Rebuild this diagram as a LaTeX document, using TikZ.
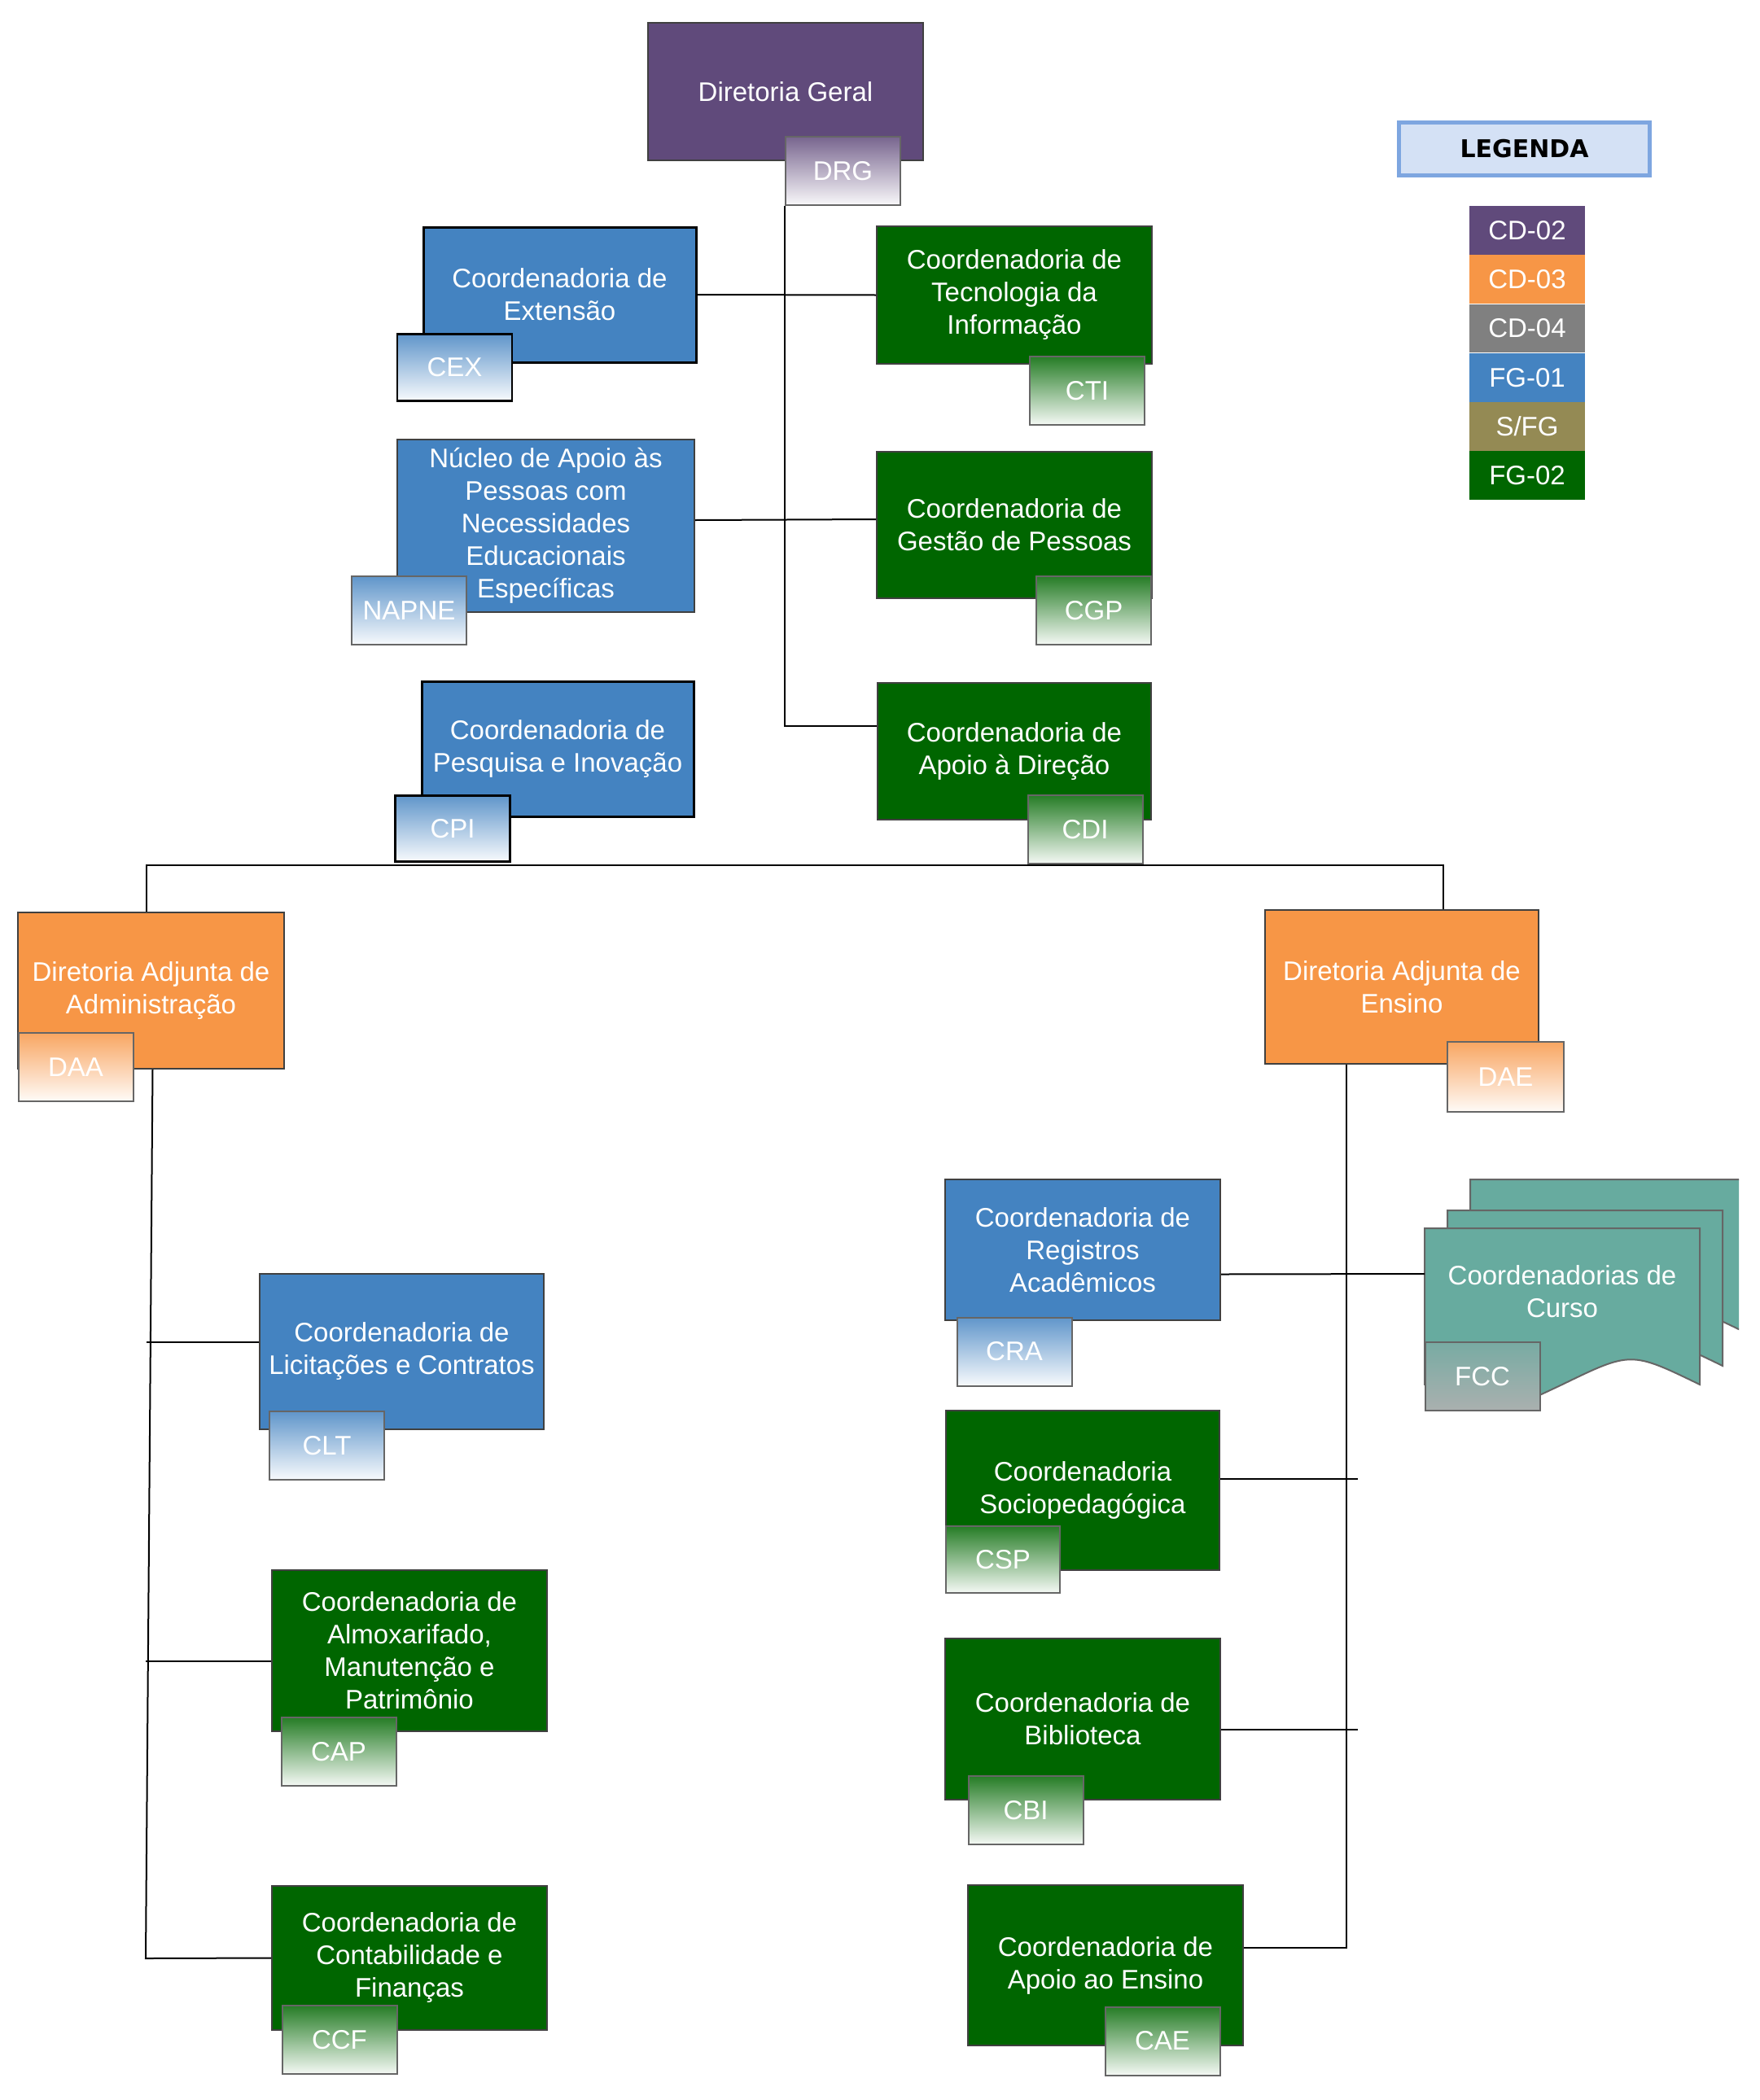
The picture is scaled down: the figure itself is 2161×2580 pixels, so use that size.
\documentclass[tikz,border=0pt]{standalone}
\usepackage{fontspec}
\setmainfont{Liberation Sans}
\newfontfamily\legfont{DejaVu Sans}
\definecolor{cdPurple}{HTML}{604A7B}
\definecolor{cdOrange}{HTML}{F79646}
\definecolor{cdGray}{HTML}{808080}
\definecolor{fgBlue}{HTML}{4483C1}
\definecolor{sfgOlive}{HTML}{948A54}
\definecolor{fgGreen}{HTML}{006600}
\definecolor{fccTeal}{HTML}{67AB9F}
\definecolor{fccTop}{HTML}{78ABA3}
\definecolor{fccBot}{HTML}{AAB0AF}
\definecolor{legFill}{HTML}{D4E1F5}
\definecolor{legLine}{HTML}{7EA6E0}

\begin{document}
\begin{tikzpicture}
  [x=1pt,y=-1pt,
  every node/.style={font=\fontsize{33}{40}\selectfont,text=white,inner sep=0pt},
  box/.style={draw=black!75,line width=2pt,fill=#1,align=center,minimum width=338pt},
  tag/.style={draw=black!60,line width=2pt,top color=#1!85!white,bottom color=#1!4!white,
    minimum width=141pt,minimum height=84pt},
  leg/.style={fill=#1,minimum width=142pt,minimum height=59.8pt,anchor=north},
  doc/.style={fill=fccTeal,draw=black!60,line width=2pt},
  wire/.style={draw,line width=2pt}]
  \fill[white] (0,0) rectangle (2161,2580);
  \useasboundingbox (0,0) rectangle (2161,2580);

  \node[box=cdPurple,minimum height=168pt] (DRG) at (965,112.5) {Diretoria Geral};
  \node[box=fgBlue,draw=black,line width=3pt,minimum width=335pt,minimum height=166pt] (CEX) at (687.5,362) {Coordenadoria de\\Extensão};
  \node[box=fgBlue,minimum width=365pt,minimum height=212pt] (NAPNE) at (670.5,646) {Núcleo de Apoio às\\Pessoas com\\Necessidades\\Educacionais\\Específicas};
  \node[box=fgBlue,draw=black,line width=3pt,minimum width=334pt,minimum height=166pt] (CPI) at (685,920) {Coordenadoria de\\Pesquisa e Inovação};
  \node[box=fgGreen,minimum height=169pt] (CTI) at (1246,362.5) {Coordenadoria de\\Tecnologia da\\Informação};
  \node[box=fgGreen,minimum height=180pt] (CGP) at (1246,645) {Coordenadoria de\\Gestão de Pessoas};
  \node[box=fgGreen,minimum width=336pt,minimum height=168pt] (CDI) at (1246,923) {Coordenadoria de\\Apoio à Direção};

  \node[box=cdOrange,minimum width=327pt,minimum height=192pt] (DAA) at (185.5,1217) {Diretoria Adjunta de\\Administração};
  \node[box=cdOrange,minimum width=336pt,minimum height=189pt] (DAE) at (1722,1212.5) {Diretoria Adjunta de\\Ensino};

  \node[box=fgBlue,minimum width=349pt,minimum height=191pt] (CLT) at (493.5,1660.5) {Coordenadoria de\\Licitações e Contratos};
  \node[box=fgGreen,minimum height=198pt] (CAP) at (503,2028) {Coordenadoria de\\Almoxarifado,\\Manutenção e\\Patrimônio};
  \node[box=fgGreen,minimum height=177pt] (CCF) at (503,2405.5) {Coordenadoria de\\Contabilidade e\\Finanças};

  \node[box=fgBlue,minimum height=173pt] (CRA) at (1330,1535.5) {Coordenadoria de\\Registros\\Acadêmicos};
  \node[box=fgGreen,minimum width=336pt,minimum height=196pt] (CSP) at (1330,1831) {Coordenadoria\\Sociopedagógica};
  \node[box=fgGreen,minimum height=198pt] (CBI) at (1330,2112) {Coordenadoria de\\Biblioteca};
  \node[box=fgGreen,minimum height=197pt] (CAE) at (1358,2414.5) {Coordenadoria de\\Apoio ao Ensino};

  \begin{scope}
    \clip (1700,1400) rectangle (2136,1800);
    \path[doc] (1806,1449) -- (2144,1449) -- (2144,1637) .. controls (2059.5,1596) .. (1975,1637)
      .. controls (1890.5,1677) .. (1806,1637) -- cycle;
  \end{scope}
  \path[doc] (1778,1487) -- (2116,1487) -- (2116,1678) .. controls (2031.5,1637) .. (1947,1678)
    .. controls (1862.5,1718) .. (1778,1678) -- cycle;
  \path[doc] (1750,1509) -- (2088,1509) -- (2088,1701) .. controls (2003.5,1660) .. (1919,1701)
    .. controls (1834.5,1741) .. (1750,1701) -- cycle;
  \node[align=center] (FCC) at (1919,1587) {Coordenadorias de\\Curso};
  \coordinate (fccIn) at (1750,1565);

  \node[tag=cdPurple] (DRGt) at (1035.5,210) {DRG};
  \node[tag=fgBlue,draw=black,line width=2.5pt,minimum height=82pt] (CEXt) at (558.5,451.5) {CEX};
  \node[tag=fgBlue] (NAPNEt) at (502.5,750) {NAPNE};
  \node[tag=fgBlue,draw=black,line width=2.5pt,minimum height=81pt] (CPIt) at (556,1018) {CPI};
  \node[tag=fgGreen] (CTIt) at (1335.5,480) {CTI};
  \node[tag=fgGreen] (CGPt) at (1343.5,750) {CGP};
  \node[tag=fgGreen] (CDIt) at (1333,1019) {CDI};
  \node[tag=cdOrange] (DAAt) at (93,1311) {DAA};
  \node[tag=cdOrange,minimum width=143pt,minimum height=86pt] (DAEt) at (1849.5,1323) {DAE};
  \node[tag=fgBlue] (CLTt) at (401.5,1776) {CLT};
  \node[tag=fgGreen] (CAPt) at (416,2152) {CAP};
  \node[tag=fgGreen] (CCFt) at (417,2506) {CCF};
  \node[tag=fgBlue] (CRAt) at (1246,1660.5) {CRA};
  \node[tag=fgGreen,minimum width=140pt,minimum height=82pt] (CSPt) at (1232,1916) {CSP};
  \node[tag=fgGreen] (CBIt) at (1260,2224) {CBI};
  \node[tag=fgGreen] (CAEt) at (1428,2507.5) {CAE};
  \node[draw=black!60,line width=2pt,top color=fccTop,bottom color=fccBot,minimum width=141pt,minimum height=84pt] (FCCt) at (1821,1691) {FCC};

  \draw[wire] (DRGt.south west) |- ([yshift=31pt]CDI.west);
  \draw[wire] (CEX.east) -- (CTI.west);
  \draw[wire] ([yshift=7pt]NAPNE.east) -- ([yshift=7pt]CGP.west);
  \coordinate (busL) at (180,1063);
  \coordinate (busR) at (1773,1063);
  \draw[wire] (busL |- DAA.north) -- (busL) -- (busR) -- (busR |- DAE.north);

  \coordinate (daaEnd) at (179,2406);
  \draw[wire] ([xshift=2pt]DAA.south) -- (daaEnd) -- (CCF.west);
  \draw[wire] ([yshift=12pt]CLT.west) -- ++(-138,0);
  \draw[wire] ([yshift=-13pt]CAP.west) -- ++(-154,0);

  \draw[wire] ([xshift=-68pt]DAE.south) |- ([yshift=22pt]CAE.east);
  \draw[wire] ([yshift=-30pt]CRA.east) -- (fccIn);
  \draw[wire] ([yshift=14pt]CSP.east) -- ++(169,0);
  \draw[wire] ([yshift=-13pt]CBI.east) -- ++(168,0);

  \node[draw=legLine,fill=legFill,line width=5pt,minimum width=308pt,minimum height=65pt,
    text=black,font=\legfont\bfseries\fontsize{30}{36}\selectfont] (LEG) at (1872.5,183) {LEGENDA};
  \node[leg=cdPurple] (CD02) at (1876,253) {CD-02};
  \node[leg=cdOrange] (CD03) at (CD02.south) {CD-03};
  \node[leg=cdGray] (CD04) at (CD03.south) {CD-04};
  \node[leg=fgBlue] (FG01) at (CD04.south) {FG-01};
  \node[leg=sfgOlive] (SFG) at (FG01.south) {S/FG};
  \node[leg=fgGreen] (FG02) at (SFG.south) {FG-02};
\end{tikzpicture}
\end{document}
